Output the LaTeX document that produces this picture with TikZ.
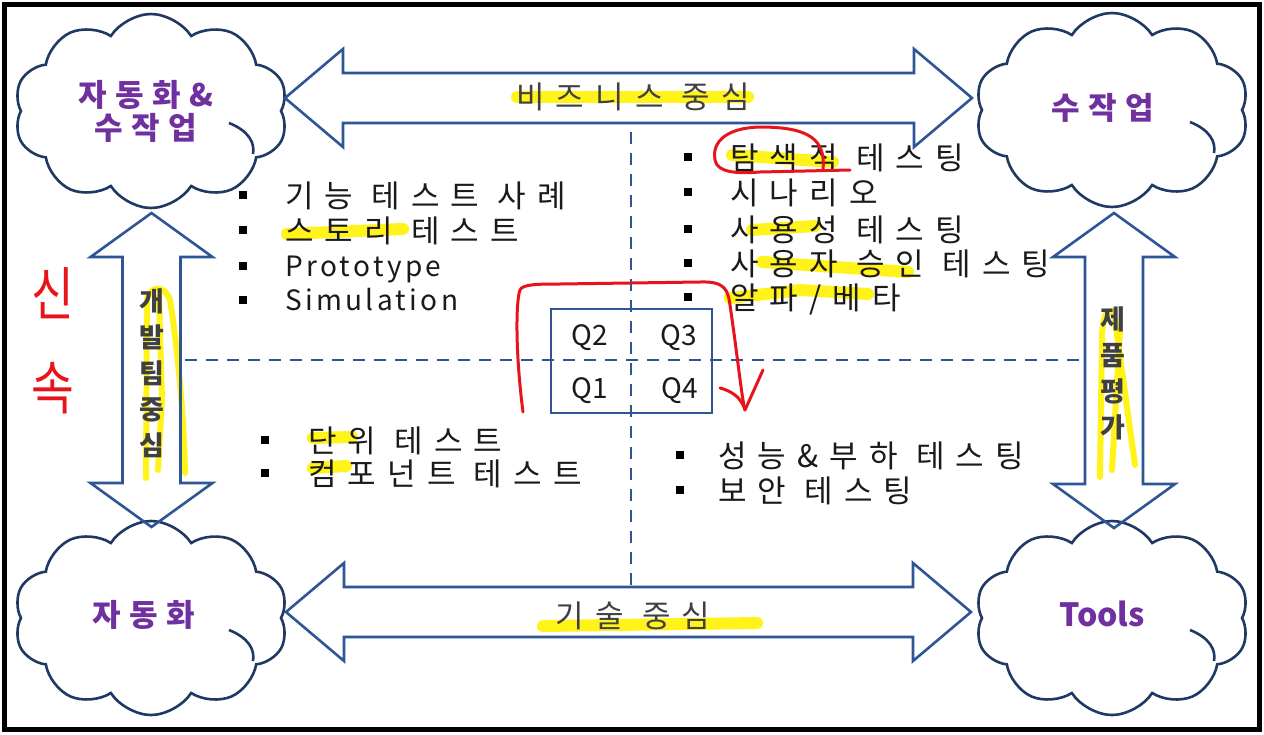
\documentclass[tikz,border=0pt]{standalone}
\usepackage{fontspec}
\setmainfont{Noto Sans CJK KR}
\newfontfamily\krs{Noto Sans CJK KR}[LetterSpace=36]
\newfontfamily\lts{Noto Sans CJK KR}[LetterSpace=12]
\newfontfamily\cls{Noto Sans CJK KR}[LetterSpace=28]
\usetikzlibrary{shapes.symbols,calc}
\definecolor{navy}{HTML}{1F3864}
\definecolor{arrblue}{HTML}{2F5597}
\definecolor{purp}{HTML}{7030A0}
\definecolor{txt}{HTML}{1A1A1A}
\definecolor{lbl}{HTML}{404040}
\definecolor{hl}{HTML}{FFF200}
\definecolor{pen}{HTML}{E8141B}
\tikzset{
  cloudbox/.style={cloud, cloud puffs=10, cloud puff arc=115, cloud ignores aspect,
    draw=navy, line width=2.6pt, minimum width=274pt, minimum height=194pt, inner sep=0pt},
  cloudtext/.style={text=purp, font=\cls\bfseries\fontsize{31}{33}\selectfont, align=center, inner sep=0pt},
  bigarrow/.style={draw=arrblue, line width=2.6pt, line join=miter},
  arrlabel/.style={text=lbl, font=\krs\fontsize{31}{34}\selectfont, inner sep=0pt},
  vlabel/.style={text=lbl, font=\bfseries\fontsize{27}{36}\selectfont, align=center, inner sep=0pt},
  dashline/.style={draw=arrblue, line width=2.4pt, dash pattern=on 12pt off 9pt},
  qbox/.style={draw=arrblue, line width=2.6pt, minimum width=161pt, minimum height=104pt, inner sep=0pt},
  qtext/.style={text=txt, font=\fontsize{28}{32}\selectfont, inner sep=0pt},
  bul/.style={fill=black, minimum size=8.5pt, inner sep=0pt},
  litem/.style={text=txt, font=\krs\fontsize{31}{34}\selectfont, anchor=base west, inner sep=0pt},
  litemlat/.style={text=txt, font=\lts\fontsize{28}{32}\selectfont, anchor=base west, inner sep=0pt},
  marker/.style={draw=hl, line width=12pt, opacity=0.9, line cap=round, line join=round},
  scribble/.style={draw=hl, line width=6pt, opacity=0.9, line cap=round, line join=round},
  redpen/.style={draw=pen, line width=3pt, line cap=round, line join=round},
}
\newcommand\HArrow[2]{%
  \draw[bigarrow] (#1) -- ($(#1)+(58,-49)$) -- ($(#1)+(58,-25)$) -- ($(#2)+(-58,-25)$)
    -- ($(#2)+(-58,-49)$) -- (#2) -- ($(#2)+(-58,49)$) -- ($(#2)+(-58,25)$)
    -- ($(#1)+(58,25)$) -- ($(#1)+(58,49)$) -- cycle;}
\newcommand\VArrow[2]{%
  \draw[bigarrow] (#1) -- ($(#1)+(61,44)$) -- ($(#1)+(29,44)$) -- ($(#2)+(29,-44)$)
    -- ($(#2)+(61,-44)$) -- (#2) -- ($(#2)+(-61,-44)$) -- ($(#2)+(-29,-44)$)
    -- ($(#1)+(-29,44)$) -- ($(#1)+(-61,44)$) -- cycle;}
\newcommand\ListItem[7]{%
  \node[bul] (#1b) at (#2,#4) {};
  \node[#6] (#1) at (#3,#4+#7) {#5};}
\begin{document}
\begin{tikzpicture}[x=1pt,y=-1pt]
\useasboundingbox (0,0) rectangle (1264,734);
\fill[white] (0,0) rectangle (1264,734);
\draw[line width=5pt] (4.5,4.5) rectangle (1259.5,729.5);

% yellow highlights
\draw[marker] (517,97) -- (748,97);
\draw[marker] (543,626) -- (757,623);
\draw[marker] (287,234) -- (403,229);
\draw[marker] (732,155) -- (833,162);
\draw[marker] (752,230) -- (815,226);
\draw[marker] (762,262) -- (908,272);
\draw[marker] (730,298) -- (800,290) -- (868,294);
\draw[marker] (313,438) -- (352,437);
\draw[marker] (313,468) -- (346,466);
\draw[scribble] (146,478) -- (147,300) .. controls (150,285) and (165,285) .. (170,300)
  .. controls (178,350) and (184,420) .. (185,473);
\draw[scribble] (159,296) -- (162,400) -- (158,470);
\draw[scribble] (1100,477) -- (1102,335) .. controls (1103,310) and (1112,303) .. (1115,320) -- (1135,465);
\draw[scribble] (1112,470) -- (1120,330);

% clouds
\node[cloudbox] (ctl) at (151,111) {};
\node[cloudbox] (ctr) at (1112,110) {};
\node[cloudbox] (cbl) at (151,618) {};
\node[cloudbox] (cbr) at (1112,618) {};
\foreach \c in {ctl,ctr,cbl,cbr}{
  \draw[draw=navy, line width=2.6pt] ($(\c)+(78,12)$) .. controls ($(\c)+(98,20)$) and ($(\c)+(104,32)$) .. ($(\c)+(102,43)$);
}
\node[cloudtext] (tctl) at (146,111) {자동화\&\\수작업};
\node[cloudtext] (tctr) at (1103,108) {수작업};
\node[cloudtext] (tcbl) at (144,615) {자동화};
\node[text=purp, font=\bfseries\fontsize{32}{36}\selectfont, inner sep=0pt] (tcbr) at (1102,614) {Tools};

% arrow tips
\coordinate (tA1) at (285,98);  \coordinate (tA2) at (972,98);
\coordinate (bA1) at (286,612); \coordinate (bA2) at (971,612);
\coordinate (lA1) at (151.5,213); \coordinate (lA2) at (151.5,527);
\coordinate (rA1) at (1114,213); \coordinate (rA2) at (1114,528);
\HArrow{tA1}{tA2}
\HArrow{bA1}{bA2}
\VArrow{lA1}{lA2}
\VArrow{rA1}{rA2}
\node[arrlabel] (lbtop) at (633,97) {비즈니스 중심};
\node[arrlabel] (lbbot) at (633,616) {기술 중심};
\node[vlabel] (lbl) at (152,373) {개\\발\\팀\\중\\심};
\node[vlabel] (lbr) at (1113,373) {제\\품\\평\\가};

% dashed axes
\coordinate (vt) at (631,132); \coordinate (vb) at (631,586);
\coordinate (hl) at (185,360); \coordinate (hr) at (1085,360);
\draw[dashline] (vt) -- (vb);
\draw[dashline] (hl) -- (hr);

% Q box
\node[qbox] (qb) at (631.5,361) {};
\node[qtext] (q2) at (590,338) {Q2};
\node[qtext] (q3) at (679,338) {Q3};
\node[qtext] (q1) at (590,391) {Q1};
\node[qtext] (q4) at (680,391) {Q4};

% lists
\ListItem{a1}{243}{285}{195}{기능 테스트 사례}{litem}{12}
\ListItem{a2}{243}{285}{230}{스토리 테스트}{litem}{12}
\ListItem{a3}{243}{285}{266}{Prototype}{litemlat}{10}
\ListItem{a4}{243}{285}{300}{Simulation}{litemlat}{10}
\ListItem{b1}{688}{730}{157}{탐색적 테스팅}{litem}{12}
\ListItem{b2}{688}{730}{192}{시나리오}{litem}{12}
\ListItem{b3}{688}{730}{229}{사용성 테스팅}{litem}{12}
\ListItem{b4}{688}{730}{263}{사용자 승인 테스팅}{litem}{12}
\ListItem{b5}{688}{730}{297}{알파/베타}{litem}{12}
\ListItem{c1}{265}{308}{440}{단위 테스트}{litem}{12}
\ListItem{c2}{265}{308}{473}{컴포넌트 테스트}{litem}{12}
\ListItem{d1}{680}{718}{455}{성능\&부하 테스팅}{litem}{12}
\ListItem{d2}{680}{718}{490}{보안 테스팅}{litem}{12}

% red pen annotations
\draw[redpen] (823,170) .. controls (826,140) and (810,127) .. (760,127)
  .. controls (722,128) and (712,145) .. (715,160) .. controls (717,172) and (735,174) .. (760,172) -- (850,170);
\draw[redpen] (523,412) .. controls (515,350) and (516,300) .. (520,290)
  .. controls (522,284) and (540,284) .. (560,284) -- (700,282)
  .. controls (725,281) and (728,290) .. (730,305) .. controls (738,360) and (742,400) .. (745,410);
\draw[redpen] (720,388) .. controls (735,392) and (742,400) .. (745,410) -- (763,370);
\node[text=pen, font=\fontsize{58}{60}\selectfont, xscale=0.8, inner sep=0pt] (hw1) at (53,293) {신};
\node[text=pen, font=\fontsize{58}{60}\selectfont, xscale=0.8, inner sep=0pt] (hw2) at (53,388) {속};
\end{tikzpicture}
\end{document}
